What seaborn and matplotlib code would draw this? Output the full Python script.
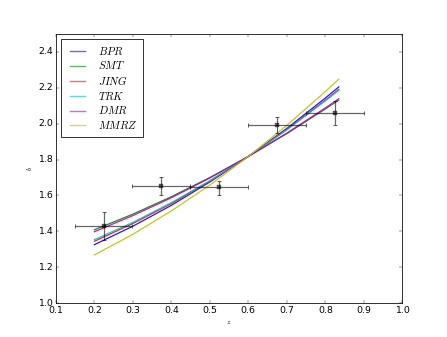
import numpy as np
import pandas as pd
import matplotlib
matplotlib.use("Agg")
import matplotlib.pyplot as plt
import seaborn as sns

# model curves b(z)
z_model = [0.2, 0.3, 0.4, 0.5, 0.6, 0.7, 0.8, 0.835]
b_bpr = [1.326, 1.429, 1.545, 1.675, 1.817, 1.973, 2.142, 2.204]
b_smt = [1.409, 1.496, 1.593, 1.700, 1.817, 1.944, 2.081, 2.131]
b_jing = [1.345, 1.444, 1.555, 1.680, 1.817, 1.967, 2.130, 2.190]
b_trk = [1.354, 1.450, 1.560, 1.682, 1.817, 1.965, 2.126, 2.185]
b_dmr = [1.398, 1.488, 1.587, 1.697, 1.817, 1.947, 2.087, 2.138]
b_mmrz = [1.269, 1.384, 1.514, 1.658, 1.817, 1.990, 2.178, 2.247]

models = ["BPR", "SMT", "JING", "TRK", "DMR", "MMRZ"]
colors = ["#0000ff", "#008000", "#ff0000", "#00bfbf", "#bf00bf", "#bfbf00"]

# measurements
z_obs = [0.224, 0.374, 0.524, 0.674, 0.825]
b_obs = [1.432, 1.652, 1.646, 1.993, 2.058]
z_err = [0.075, 0.075, 0.075, 0.075, 0.075]
b_lo = [0.080, 0.050, 0.043, 0.048, 0.067]
b_hi = [0.075, 0.050, 0.037, 0.044, 0.067]

rows = []
for name, vals in zip(models, [b_bpr, b_smt, b_jing, b_trk, b_dmr, b_mmrz]):
    for z, b in zip(z_model, vals):
        rows.append({"z": z, "b": b, "model": name})
df = pd.DataFrame(rows)

plt.style.use("classic")
fig, ax = plt.subplots(figsize=(447 / 56, 337 / 56), dpi=56)
fig.patch.set_facecolor("white")

sns.lineplot(data=df, x="z", y="b", hue="model", hue_order=models,
             palette=colors, lw=1.6, alpha=0.9, legend=False, ax=ax, sort=False)

ax.errorbar(z_obs, b_obs, xerr=z_err, yerr=[b_lo, b_hi], fmt="s", color="k",
            ms=4, ecolor="k", elinewidth=1.6, capsize=3, capthick=1.3, alpha=0.6)

ax.set_xlim(0.1, 1.0)
ax.set_ylim(1.0, 2.5)
ax.set_xlabel("$z$", fontsize=9)
ax.set_ylabel("$b$", fontsize=9)

handles = [plt.Line2D([], [], color=c, lw=1.8, alpha=0.6) for c in colors]
ax.legend(handles, ["$" + m + "$" for m in models], loc="upper left",
          fontsize=14, frameon=True, handlelength=2.0, handletextpad=0.9,
          labelspacing=0.25, borderpad=0.5)

fig.savefig("out.png", dpi=56, facecolor="white")
